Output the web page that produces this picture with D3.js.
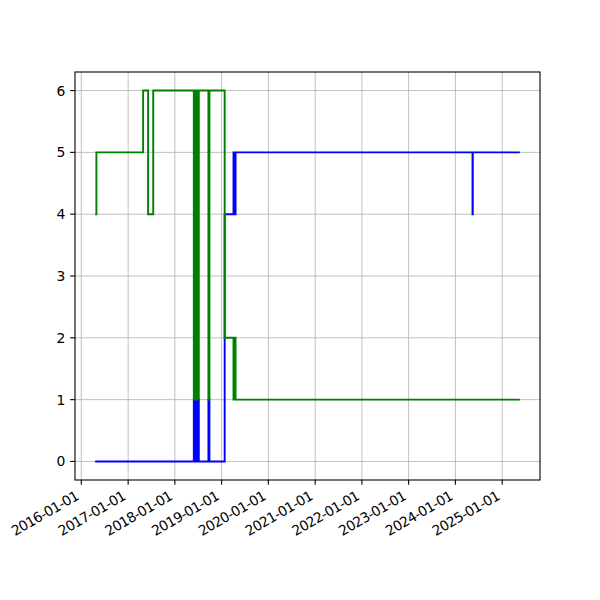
<!DOCTYPE html>
<html>
<head>
<meta charset="utf-8">
<script src="https://cdn.jsdelivr.net/npm/d3@7"></script>
<style>
  html, body { margin: 0; padding: 0; background: #fff; }
  svg { display: block; }
  text { font-family: "DejaVu Sans", sans-serif; }
</style>
</head>
<body>
<svg id="chart" width="600" height="600"></svg>
<script>
// Change points (step-after): both series share the same change dates
const dates = [
  "2016-04-26", "2016-04-28",
  "2017-04-28", "2017-06-06", "2017-07-16",
  "2018-05-29", "2018-06-01", "2018-06-04", "2018-06-07", "2018-06-10",
  "2018-06-13", "2018-06-16", "2018-06-19", "2018-06-22", "2018-06-25",
  "2018-06-28", "2018-07-01", "2018-07-04", "2018-07-07", "2018-07-10",
  "2018-09-20", "2018-09-28",
  "2019-01-25",
  "2019-04-04", "2019-04-08", "2019-04-12", "2019-04-16", "2019-04-20",
  "2024-05-14", "2024-05-16",
  "2025-05-11"
];
const blueValues = [
  0, 0,
  0, 0, 0,
  1, 0, 1, 0, 1,
  0, 1, 0, 1, 0,
  1, 0, 1, 0, 0,
  1, 0,
  4,
  5, 4, 5, 4, 5,
  4, 5,
  5
];
const greenValues = [
  4, 5,
  6, 4, 6,
  1, 6, 1, 6, 1,
  6, 1, 6, 1, 6,
  1, 6, 1, 6, 6,
  1, 6,
  2,
  1, 2, 1, 2, 1,
  1, 1,
  1
];
const xTickLabels = ["2016-01-01","2017-01-01","2018-01-01","2019-01-01","2020-01-01",
                     "2021-01-01","2022-01-01","2023-01-01","2024-01-01","2025-01-01"];
const yTicks = [0, 1, 2, 3, 4, 5, 6];

const parse = d3.utcParse("%Y-%m-%d");
const dd = dates.map(parse);
const blue = dd.map((d, i) => ({ d, v: blueValues[i] }));
const green = dd.map((d, i) => ({ d, v: greenValues[i] }));

const L = 75, R = 540, T = 72, B = 480;
const svg = d3.select("#chart");

const ext = d3.extent(dd);
const span = ext[1] - ext[0];
const x = d3.scaleUtc()
  .domain([new Date(+ext[0] - span * 0.05), new Date(+ext[1] + span * 0.05)])
  .range([L, R]);
const y = d3.scaleLinear().domain([-0.3, 6.3]).range([B, T]);

const xTicks = xTickLabels.map(parse);

// grid
const grid = svg.append("g");
grid.selectAll("line.gx").data(xTicks).join("line")
  .attr("x1", d => x(d)).attr("x2", d => x(d))
  .attr("y1", T).attr("y2", B)
  .attr("stroke", "#b0b0b0").attr("stroke-width", 0.8);
grid.selectAll("line.gy").data(yTicks).join("line")
  .attr("x1", L).attr("x2", R)
  .attr("y1", d => y(d)).attr("y2", d => y(d))
  .attr("stroke", "#b0b0b0").attr("stroke-width", 0.8);

// lines
const line = d3.line().x(p => x(p.d)).y(p => y(p.v)).curve(d3.curveStepAfter);
svg.append("path").datum(blue).attr("d", line)
  .attr("fill", "none").attr("stroke", "#0000ff").attr("stroke-width", 1.9)
  .attr("stroke-linecap", "square");
svg.append("path").datum(green).attr("d", line)
  .attr("fill", "none").attr("stroke", "#008000").attr("stroke-width", 1.9)
  .attr("stroke-linecap", "square");

// frame
svg.append("rect").attr("x", L).attr("y", T).attr("width", R - L).attr("height", B - T)
  .attr("fill", "none").attr("stroke", "#000").attr("stroke-width", 1.1);

// x axis ticks & labels
const fs = 13.9;
const xa = svg.append("g");
xa.selectAll("line").data(xTicks).join("line")
  .attr("x1", d => x(d)).attr("x2", d => x(d))
  .attr("y1", B).attr("y2", B + 4.86)
  .attr("stroke", "#000").attr("stroke-width", 1.1);
xa.selectAll("text").data(xTickLabels).join("text")
  .attr("transform", (d, i) => `translate(${x(xTicks[i])},${B + 9.7 + 12})rotate(-30)`)
  .attr("text-anchor", "end")
  .attr("dy", -3.3)
  .attr("font-size", fs)
  .attr("letter-spacing", -0.6)
  .attr("fill", "#000")
  .text(d => d);

// y axis ticks & labels
const ya = svg.append("g");
ya.selectAll("line").data(yTicks).join("line")
  .attr("x1", L - 4.86).attr("x2", L)
  .attr("y1", d => y(d)).attr("y2", d => y(d))
  .attr("stroke", "#000").attr("stroke-width", 1.1);
ya.selectAll("text").data(yTicks).join("text")
  .attr("x", L - 9.7).attr("y", d => y(d))
  .attr("text-anchor", "end").attr("dominant-baseline", "central")
  .attr("font-size", fs).attr("fill", "#000")
  .text(d => d);
</script>
</body>
</html>
